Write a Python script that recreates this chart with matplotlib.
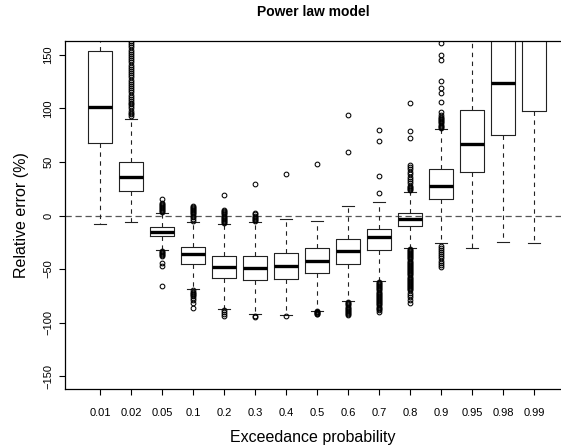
import matplotlib
matplotlib.use("Agg")
import matplotlib.pyplot as plt

plt.rcParams['font.family'] = ['Liberation Sans', 'DejaVu Sans']

# exceedance probabilities on the x axis
labels = ['0.01', '0.02', '0.05', '0.1', '0.2', '0.3', '0.4', '0.5',
          '0.6', '0.7', '0.8', '0.9', '0.95', '0.98', '0.99']

# box statistics (relative error, %)
whislo = [-8, -6, -32, -69, -87, -92, -93, -89, -80, -61, -30, -26, -30, -25, -26]
q1 = [68, 23, -19, -45, -58, -60, -59, -54, -45, -32, -10, 15, 41, 75, 98]
med = [101, 36, -15, -36, -48, -49, -47, -42, -33, -20, -3, 28, 67, 124, 175]
q3 = [154, 50, -11, -29, -38, -38, -35, -30, -22, -13, 2, 43, 99, 185, 210]
whishi = [230, 90, 2, -6, -8, -6, -3, -5, 9, 13, 22, 81, 200, 250, 280]

fliers = [
    [],
    [93, 95, 96, 98, 100, 102, 104, 105, 107, 109, 111, 113, 115, 117, 119,
     121, 123, 125, 127, 129, 131, 133, 135, 137, 139, 141, 143, 145, 147,
     149, 151, 153, 155, 157, 159, 161, 163, 170],
    [3, 4, 5, 6, 7, 8, 9, 10, 11, 12, 15,
     -33, -34, -35, -36, -37, -38, -44, -47, -66],
    [-5, -3, -1, 0, 1, 2, 3, 4, 5, 6, 7, 8, 9,
     -70, -71, -72, -73, -74, -75, -77, -79, -82, -86],
    [-7, -6, -5, -4, -3, -2, -1, 0, 1, 2, 3, 4, 5, 19, -88, -90, -92, -94],
    [-5, -4, -3, -2, -1, 0, 1, 2, 29, -94, -95],
    [39, -94],
    [48, -89.5, -90, -90.5, -91, -91.5, -92],
    [59, 94, -81, -82, -83, -84, -85, -86, -87, -88, -89, -90, -91, -92, -93],
    [21, 37, 70, 80, -62, -63, -64, -65, -66, -67, -68, -69, -70, -71, -72,
     -73, -74, -75, -76, -77, -78, -79, -80, -81, -82, -83, -84, -85, -86,
     -87, -88, -90],
    [24, 25, 26, 27, 28, 30, 32, 34, 36, 39, 41, 43, 45, 47, 72, 79, 105,
     -31, -32, -33, -34, -35, -36, -37, -38, -39, -40, -41, -42, -43, -44,
     -45, -46, -47, -48, -49, -50, -51, -52, -53, -54, -55, -56, -57, -58,
     -59, -60, -61, -62, -63, -64, -65, -66, -67, -68, -69, -70, -72, -74,
     -76, -79, -82],
    [82, 83, 84, 85, 86, 87, 88, 89, 90, 91, 92, 94, 97, 106, 114, 119, 126,
     145, 150, 161, -28, -30, -32, -34, -36, -38, -40, -42, -44, -46, -48],
    [],
    [],
    [],
]

stats = []
for i in range(len(labels)):
    stats.append(dict(whislo=whislo[i], q1=q1[i], med=med[i], q3=q3[i],
                      whishi=whishi[i], fliers=fliers[i], label=labels[i]))

fig = plt.figure(figsize=(5.61, 4.48), dpi=100)
ax = fig.add_axes([65 / 561, 59 / 448, 1 - 65 / 561, 348 / 448])

ink = '#222222'
ax.axhline(0, color='#555555', lw=0.9, ls=(0, (5, 3)), zorder=1)
ax.bxp(stats, widths=0.8,
       boxprops=dict(color=ink, lw=0.8),
       medianprops=dict(color='black', lw=2.4),
       whiskerprops=dict(color=ink, lw=0.8, ls=(0, (4, 4))),
       capprops=dict(color=ink, lw=0.8),
       flierprops=dict(marker='o', markersize=3.4, markerfacecolor='none',
                       markeredgecolor='black', markeredgewidth=0.75),
       zorder=2)

ax.set_xlim(-0.13, 15.87)
ax.set_ylim(-162, 163)
ax.set_yticks([-150, -100, -50, 0, 50, 100, 150])
ax.spines['right'].set_visible(False)
for s in ['left', 'top', 'bottom']:
    ax.spines[s].set_linewidth(0.9)
ax.tick_params(axis='x', length=4.5, width=0.8, pad=9, labelsize=8)
ax.tick_params(axis='y', length=4.5, width=0.8, pad=4, labelsize=8)
for t in ax.get_yticklabels():
    t.set_rotation(90)
    t.set_va('center')

fig.text(313 / 561, 1 - 12 / 448, 'Power law model', ha='center', va='center',
         fontsize=10, fontweight='bold')
fig.text(313 / 561, 1 - 437 / 448, 'Exceedance probability', ha='center',
         va='center', fontsize=11.5)
fig.text(22 / 561, 1 - 215 / 448, 'Relative error (%)', ha='center',
         va='center', rotation=90, fontsize=11.5)

fig.savefig('out.png', dpi=100)
